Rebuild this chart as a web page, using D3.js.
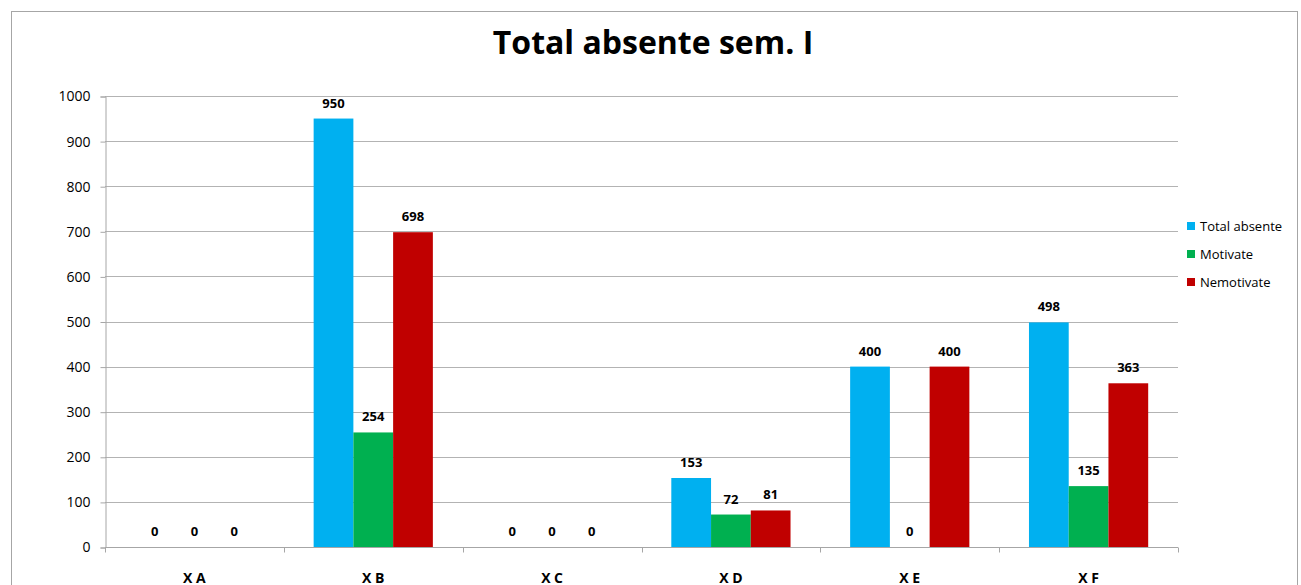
<!DOCTYPE html>
<html lang="ro">
<head>
  <meta charset="UTF-8">
  <title>Total absente sem. I</title>
  <style>
    body { margin: 0; background: #fff; }
    svg { display: block; font-family: "Open Sans", sans-serif; }
  </style>
</head>
<body>
  <svg></svg>
  <script src="https://cdn.jsdelivr.net/npm/d3@7"></script>
  <script>
    const categories = ["X A", "X B", "X C", "X D", "X E", "X F"]
    const seriesNames = ["Total absente", "Motivate", "Nemotivate"]
    const totalAbsente = [0, 950, 0, 153, 400, 498]
    const motivate = [0, 254, 0, 72, 0, 135]
    const nemotivate = [0, 698, 0, 81, 400, 363]
    const yTicks = [0, 100, 200, 300, 400, 500, 600, 700, 800, 900, 1000]
    const colors = ["#00b0f0", "#00b050", "#c00000"]

    const values = [totalAbsente, motivate, nemotivate]
    const rows = categories.map((c, i) => ({
      cat: c,
      vals: seriesNames.map((s, j) => ({ key: s, value: values[j][i] }))
    }))

    const width = 1301
    const height = 585
    const plot = { left: 105, right: 1178, top: 96, bottom: 547 }

    const svg = d3.select("svg")
      .attr("width", width)
      .attr("height", height)

    // outer chart frame
    svg.append("rect")
      .attr("x", 11.5).attr("y", 11.5)
      .attr("width", 1286).attr("height", 600)
      .attr("fill", "#fff")
      .attr("stroke", "#a6a6a6")

    svg.append("text")
      .attr("x", 653).attr("y", 54)
      .attr("text-anchor", "middle")
      .attr("font-size", 32)
      .attr("font-weight", "bold")
      .text("Total absente sem. I")

    const x = d3.scaleBand()
      .domain(categories)
      .range([plot.left, plot.right])

    const x1 = d3.scaleBand()
      .domain(seriesNames)
      .range([0, x.bandwidth()])
      .paddingOuter(0.75)
      .paddingInner(0)

    const y = d3.scaleLinear()
      .domain([0, 1000])
      .range([plot.bottom, plot.top])

    // gridlines
    svg.append("g")
      .selectAll("line")
      .data(yTicks)
      .join("line")
      .attr("x1", plot.left).attr("x2", plot.right)
      .attr("y1", d => Math.round(y(d)) + 0.5)
      .attr("y2", d => Math.round(y(d)) + 0.5)
      .attr("stroke", "#b3b3b3")

    // y axis
    const yAxis = svg.append("g")
      .attr("transform", `translate(${plot.left + 0.5},0.5)`)
      .call(d3.axisLeft(y).tickValues(yTicks).tickFormat(d3.format("d")).tickSize(5).tickPadding(10))
    yAxis.selectAll("path, line").attr("stroke", "#a6a6a6")
    yAxis.selectAll("text").attr("font-size", 14).attr("fill", "#000")
      .attr("font-family", "'Open Sans', sans-serif")

    // bars
    const groups = svg.append("g")
      .selectAll("g")
      .data(rows)
      .join("g")
      .attr("transform", d => `translate(${x(d.cat)},0)`)

    groups.selectAll("rect")
      .data(d => d.vals)
      .join("rect")
      .attr("x", d => x1(d.key))
      .attr("y", d => y(d.value))
      .attr("width", x1.bandwidth())
      .attr("height", d => y(0) - y(d.value))
      .attr("fill", (d, i) => colors[i])

    groups.selectAll("text")
      .data(d => d.vals)
      .join("text")
      .attr("x", d => x1(d.key) + x1.bandwidth() / 2)
      .attr("y", d => y(d.value) - 11)
      .attr("text-anchor", "middle")
      .attr("font-size", 13)
      .attr("font-weight", "bold")
      .text(d => d.value)

    // x axis
    const xAxis = svg.append("g")
      .attr("transform", `translate(0,${plot.bottom + 0.5})`)
    xAxis.append("line")
      .attr("x1", plot.left).attr("x2", plot.right)
      .attr("stroke", "#a6a6a6")
    xAxis.selectAll("line.tick")
      .data(categories.concat([null]))
      .join("line")
      .attr("class", "tick")
      .attr("x1", (d, i) => Math.round(plot.left + i * x.bandwidth()) + 0.5)
      .attr("x2", (d, i) => Math.round(plot.left + i * x.bandwidth()) + 0.5)
      .attr("y1", 0).attr("y2", 5)
      .attr("stroke", "#a6a6a6")
    xAxis.selectAll("text")
      .data(categories)
      .join("text")
      .attr("x", d => x(d) + x.bandwidth() / 2)
      .attr("y", 35)
      .attr("text-anchor", "middle")
      .attr("font-size", 14)
      .attr("font-weight", "bold")
      .text(d => d)

    // legend
    const legend = svg.append("g")
      .selectAll("g")
      .data(seriesNames)
      .join("g")
      .attr("transform", (d, i) => `translate(1187,${226 + i * 28})`)
    legend.append("rect")
      .attr("x", 0).attr("y", -4)
      .attr("width", 8).attr("height", 8)
      .attr("fill", (d, i) => colors[i])
    legend.append("text")
      .attr("x", 13).attr("y", 5)
      .attr("font-size", 13)
      .text(d => d)
  </script>
</body>
</html>
